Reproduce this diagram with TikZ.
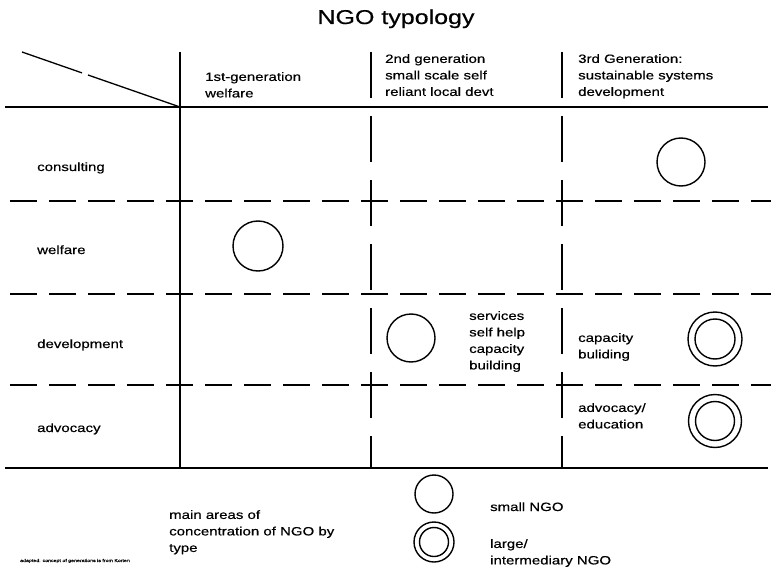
\documentclass[tikz,border=0pt]{standalone}
\usepackage{fontspec}
\setmainfont{Liberation Sans}[FakeStretch=1.25,FakeBold=0.5]
\begin{document}
\begin{tikzpicture}[x=1pt,y=-1pt,
  txt/.style={inner sep=0pt, font=\fontsize{12}{16.5}\selectfont},
  blk/.style={txt, align=left, anchor=north west},
  lbl/.style={txt, anchor=base west},
  solidln/.style={line width=1.3pt},
  dashln/.style={line width=1.2pt, dash pattern=on 27pt off 12pt},
  vdashln/.style={line width=1.2pt, dash pattern=on 46pt off 18pt},
  ring/.style={circle, draw, line width=1.4pt, inner sep=0pt, minimum size=#1},
]
\useasboundingbox (0,0) rectangle (771,575);

% title
\node[inner sep=0pt, anchor=base, font=\fontsize{20}{24}\selectfont] (title) at (396,24) {NGO typology};

% grid coordinates
\coordinate (tl) at (5,107);   \coordinate (tr) at (768,107);
\coordinate (bl) at (5,468);   \coordinate (br) at (768,468);
\coordinate (v1t) at (180,52); \coordinate (v1b) at (180,468);
\coordinate (v2t) at (371,52); \coordinate (v2b) at (371,468);
\coordinate (v3t) at (562,52); \coordinate (v3b) at (562,468);
\coordinate (h1l) at (10,201); \coordinate (h1r) at (771,201);
\coordinate (h2l) at (10,294); \coordinate (h2r) at (771,294);
\coordinate (h3l) at (10,385); \coordinate (h3r) at (771,385);
\coordinate (dg0) at (22,52);  \coordinate (dga) at (82,72.9);
\coordinate (dgb) at (88,75);  \coordinate (dg1) at (180,107);

\draw[solidln] (tl) -- (tr);
\draw[solidln] (bl) -- (br);
\draw[solidln] (v1t) -- (v1b);
\draw[solidln] (dg0) -- (dga);
\draw[solidln] (dgb) -- (dg1);
\draw[vdashln] (v2t) -- (v2b);
\draw[vdashln] (v3t) -- (v3b);
\draw[dashln] (h1l) -- (h1r);
\draw[dashln] (h2l) -- (h2r);
\draw[dashln] (h3l) -- (h3r);

% column headers
\node[blk] (g1) at (205,72) {1st-generation\\welfare};
\node[blk] (g2) at (385,54) {2nd generation\\small scale self\\reliant local devt};
\node[blk] (g3) at (578,54) {3rd Generation:\\sustainable systems\\development};

% row labels
\node[lbl] (r1) at (37,171) {consulting};
\node[lbl] (r2) at (37,254) {welfare};
\node[lbl] (r3) at (37,348) {development};
\node[lbl] (r4) at (37,432) {advocacy};

% cell texts
\node[blk] (t1) at (469,311) {services\\self help\\capacity\\building};
\node[blk] (t2) at (578,333) {capacity\\buliding};
\node[blk] (t3) at (578,403) {advocacy/\\education};

% circles
\node[ring=48pt] (c1) at (681,162) {};
\node[ring=50pt] (c2) at (258,246) {};
\node[ring=48pt] (c3) at (411,338) {};
\node[ring=54pt] (d1o) at (715,339) {};
\node[ring=40pt] (d1i) at (715,339) {};
\node[ring=53pt] (d2o) at (715,421) {};
\node[ring=39pt] (d2i) at (715,421) {};

% legend
\node[ring=38pt] (ls) at (434,494) {};
\node[ring=40pt] (llo) at (434,542) {};
\node[ring=29pt] (lli) at (434,542) {};
\node[lbl] (lst) at (490,511) {small NGO};
\node[blk] (llt) at (490,539) {large/\\intermediary NGO};
\node[blk] (main) at (169,510) {main areas of\\concentration of NGO by\\type};
\node[inner sep=0pt, anchor=base west, font=\fontsize{4.2}{5}\selectfont] (foot) at (20,562) {adapted: concept of generations is from Korten};
\end{tikzpicture}
\end{document}
